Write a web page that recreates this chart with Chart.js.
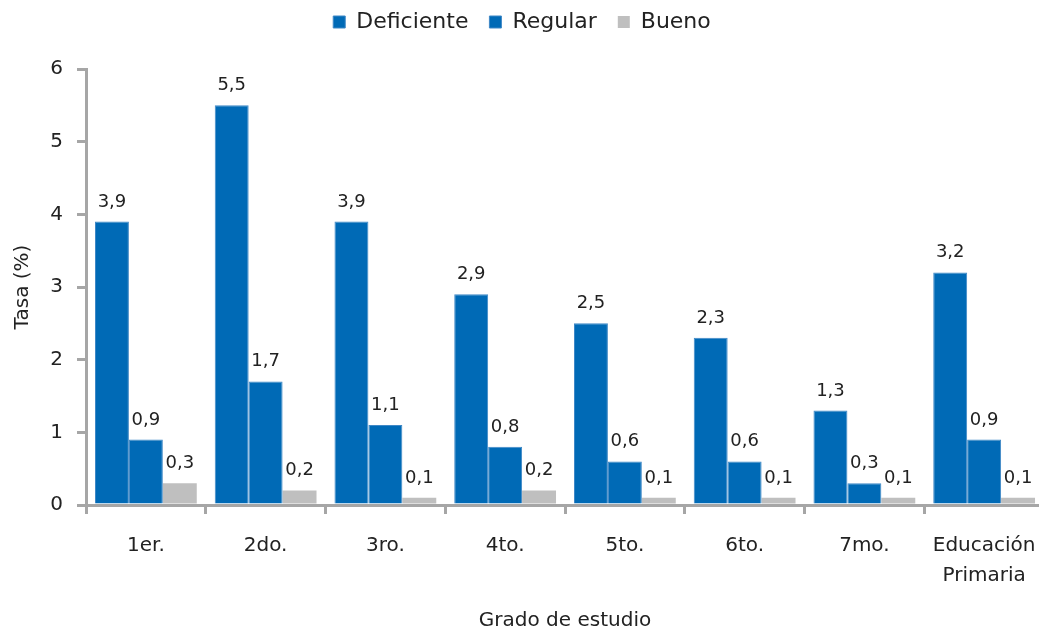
<!DOCTYPE html>
<html>
<head>
<meta charset="utf-8">
<script src="https://cdn.jsdelivr.net/npm/chart.js@4.4.1/dist/chart.umd.min.js"></script>
<style>
  html, body { margin: 0; padding: 0; overflow: hidden; background: #ffffff; }
  #chart { display: block; }
</style>
</head>
<body>
<canvas id="chart" width="1046" height="633"></canvas>
<script>
// Tasa por grado de estudio (%)
const categories = ['1er.', '2do.', '3ro.', '4to.', '5to.', '6to.', '7mo.', ['Educación', 'Primaria']];
const deficiente = [3.9, 5.5, 3.9, 2.9, 2.5, 2.3, 1.3, 3.2];
const regular    = [0.9, 1.7, 1.1, 0.8, 0.6, 0.6, 0.3, 0.9];
const bueno      = [0.3, 0.2, 0.1, 0.2, 0.1, 0.1, 0.1, 0.1];
const yTicks     = [0, 1, 2, 3, 4, 5, 6];

const FONT = '"DejaVu Sans", "Noto Sans", sans-serif';
const TEXT = '#222222';
const AXIS = '#A6A6A6';
const BLUE = '#006AB6';
const EDGE = '#3F88C6';
const GREY = '#BFBFBF';

// value labels above each bar, decimal comma
const valueLabels = {
  id: 'valueLabels',
  afterDatasetsDraw(chart) {
    const ctx = chart.ctx;
    ctx.save();
    ctx.font = '18px ' + FONT;
    ctx.fillStyle = TEXT;
    ctx.textAlign = 'center';
    ctx.textBaseline = 'alphabetic';
    chart.data.datasets.forEach((ds, di) => {
      const meta = chart.getDatasetMeta(di);
      meta.data.forEach((bar, i) => {
        const txt = ds.data[i].toFixed(1).replace('.', ',');
        ctx.fillText(txt, bar.x, bar.y - 15);
      });
    });
    ctx.restore();
  }
};

// legend row sits higher than its padding would place it
const liftLegend = {
  id: 'liftLegend',
  afterLayout(chart) {
    const l = chart.legend;
    if (l) { l.top -= 26; l.bottom -= 26; }
  }
};

new Chart(document.getElementById('chart'), {
  type: 'bar',
  data: {
    labels: categories,
    datasets: [
      { label: 'Deficiente', data: deficiente, backgroundColor: BLUE, borderColor: EDGE, borderWidth: 1, borderSkipped: 'bottom' },
      { label: 'Regular',    data: regular,    backgroundColor: BLUE, borderColor: EDGE, borderWidth: 1, borderSkipped: 'bottom' },
      { label: 'Bueno',      data: bueno,      backgroundColor: GREY, borderWidth: 0 }
    ]
  },
  options: {
    responsive: false,
    animation: false,
    events: [],
    layout: { padding: { top: 16, right: 2, bottom: 0, left: 0 } },
    datasets: { bar: { categoryPercentage: 0.85, barPercentage: 1.0 } },
    plugins: {
      legend: {
        position: 'top',
        align: 'center',
        labels: {
          boxWidth: 12,
          boxHeight: 12,
          padding: 21,
          color: TEXT,
          font: { family: FONT, size: 22 }
        }
      },
      tooltip: { enabled: false }
    },
    scales: {
      x: {
        grid: {
          display: true,
          drawOnChartArea: false,
          drawTicks: true,
          tickLength: 9,
          color: AXIS,
          lineWidth: 3,
          offset: true
        },
        border: { display: true, color: AXIS, width: 3 },
        ticks: {
          color: TEXT,
          padding: 17,
          maxRotation: 0,
          autoSkip: false,
          font: { family: FONT, size: 20, lineHeight: 1.5 }
        },
        title: {
          display: true,
          text: 'Grado de estudio',
          color: TEXT,
          padding: { top: 0, bottom: 0 },
          font: { family: FONT, size: 20, lineHeight: 1.2 }
        },
        afterFit(scale) {
          scale.height = 128;
          scale.paddingLeft = 0;
          scale.paddingRight = 0;
        }
      },
      y: {
        min: 0,
        max: 6,
        afterBuildTicks(scale) { scale.ticks = yTicks.map(v => ({ value: v })); },
        grid: {
          display: true,
          drawOnChartArea: false,
          drawTicks: true,
          tickLength: 9,
          color: AXIS,
          lineWidth: 3
        },
        border: { display: true, color: AXIS, width: 3 },
        ticks: {
          color: TEXT,
          padding: 14,
          font: { family: FONT, size: 20 }
        },
        title: {
          display: true,
          text: 'Tasa (%)',
          color: TEXT,
          padding: { top: 11, bottom: 0 },
          font: { family: FONT, size: 20, lineHeight: 1.2 }
        },
        afterFit(scale) { scale.width = 86; }
      }
    }
  },
  plugins: [valueLabels, liftLegend]
});
</script>
</body>
</html>
